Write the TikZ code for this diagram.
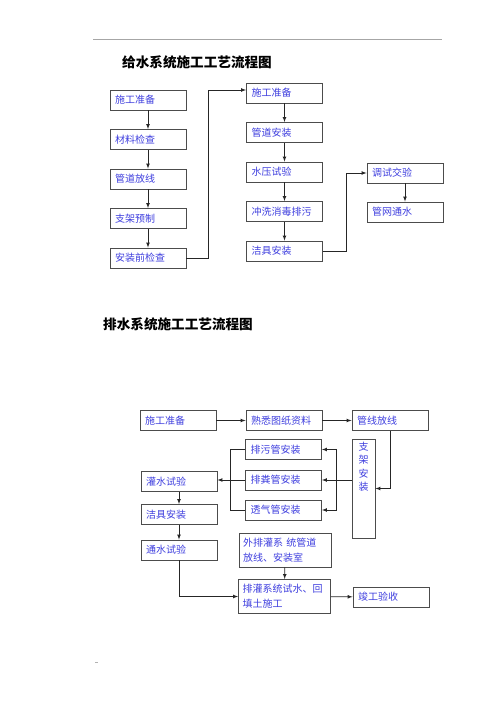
\documentclass[tikz,border=0pt]{standalone}
\usepackage{fontspec}
\setmainfont{Noto Sans CJK SC}
\usepackage{tikz}
\usetikzlibrary{positioning}
\usetikzlibrary{arrows,shapes}
\usetikzlibrary{calc}
\definecolor{stepblue}{RGB}{62,62,222}
\tikzstyle{procbox}=[rectangle,draw=black!70,line width=0.9pt,minimum height=20pt,inner xsep=5pt,inner ysep=0pt,text width=66pt,align=left,text=stepblue,font=\fontsize{10}{15}\selectfont]
\tikzstyle{widebox}=[procbox,minimum height=34pt,inner xsep=4pt,text width=84pt]
\tikzstyle{tallbox}=[rectangle,draw=black!70,line width=0.9pt,minimum width=23pt,minimum height=99pt,inner sep=0pt]
\tikzstyle{talltext}=[text=stepblue,font=\fontsize{10}{13.5}\selectfont,align=center,anchor=north,inner sep=0pt]
\tikzstyle{edge} = [draw,line width=0.7pt,black!85,-latex]
\tikzstyle{plainedge} = [draw,line width=0.7pt,black!85]
\tikzstyle{heading} = [font=\fontsize{13.6}{16}\selectfont\bfseries,anchor=west,inner sep=0pt]

\begin{document}
\begin{tikzpicture}[x=1pt,y=-1pt]
    \useasboundingbox (0,0) rectangle (500,707);
    \draw[gray!70,line width=0.8pt] (93,39) -- (442,39);
    \fill[gray!60] (95,661.5) rectangle (97.5,663);

    % water supply
    \node[heading] (supplytitle) at (122,62) {给水系统施工工艺流程图};

    \foreach \pos/\name/\label in {{(148,100)/prep/施工准备}, {(148,139.5)/check/材料检查}, {(148,179)/layout/管道放线},
        {(148,218.5)/bracket/支架预制}, {(148,258)/precheck/安装前检查}}
        \node[procbox] (\name) at \pos {\label};

    \foreach \pos/\name/\label in {{(284.5,93)/prepB/施工准备}, {(284.5,132.5)/pipe/管道安装}, {(284.5,172)/press/水压试验},
        {(284.5,211.5)/flush/冲洗消毒排污}, {(284.5,251)/fixture/洁具安装}, {(405,173)/debug/调试交验}, {(405,212)/water/管网通水}}
        \node[procbox] (\name) at \pos {\label};

    \foreach \source/ \dest in {prep/check, check/layout, layout/bracket, bracket/precheck,
        prepB/pipe, pipe/press, press/flush, flush/fixture, debug/water}
        \path[edge] (\source) -- (\dest);

    \path[edge] (precheck.east) -- ++(22,0) |- ([yshift=3pt]prepB.west);
    \path[edge] (fixture.east) -- ++(23,0) |- (debug.west);

    % drainage
    \node[heading] (draintitle) at (103,324) {排水系统施工工艺流程图};

    \foreach \pos/\name/\label in {{(178,420.5)/dprep/施工准备}, {(284,420.5)/drawing/熟悉图纸资料}, {(390,420.5)/dlayout/管线放线},
        {(283.5,449.5)/sewage/排污管安装}, {(283.5,480)/soil/排粪管安装}, {(283.5,510)/vent/透气管安装},
        {(179,481.5)/fill/灌水试验}, {(179,514.5)/dfixture/洁具安装}, {(179,550)/flow/通水试验}, {(391,597)/accept/竣工验收}}
        \node[procbox] (\name) at \pos {\label};

    \node[widebox] (outer) at (285,550) {外排灌系 统管道\\放线、安装室};
    \node[widebox] (backfill) at (284.5,596.5) {排灌系统试水、回\\填土施工};

    \node[tallbox] (support) at (363.5,488.5) {};
    \node[talltext] (supporttext) at ($(support.north)+(0,3)$) {支\\架\\安\\装};

    \foreach \source/ \dest in {dprep/drawing, drawing/dlayout, fill/dfixture, dfixture/flow, outer/backfill, backfill/accept}
        \path[edge] (\source) -- (\dest);

    \path[edge] (dlayout.south) |- (support.east);
    \path[edge] (support.west |- soil.east) -- (soil.east);
    \coordinate (rightbus) at ($(soil.east)+(14,0)$);
    \path[edge] (rightbus) |- (sewage.east);
    \path[edge] (rightbus) |- (vent.east);
    \coordinate (leftbus) at ($(soil.west)+(-15,0)$);
    \path[plainedge] (sewage.west) -| (leftbus) |- (vent.west);
    \path[edge] (soil.west) -- (fill.east |- soil.west);
    \path[edge] (flow.south) |- (backfill.west);

\end{tikzpicture}
\end{document}
